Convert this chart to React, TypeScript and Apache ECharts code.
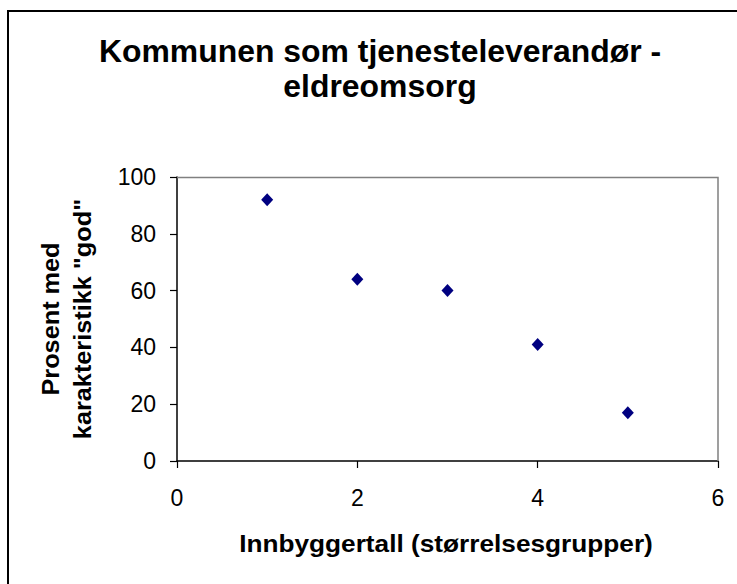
import React, { useEffect, useRef } from "react";
import * as echarts from "echarts";

const titleLines = ["Kommunen som tjenesteleverandør -", "eldreomsorg"];
const xAxisTitle = "Innbyggertall (størrelsesgrupper)";
const yAxisTitleLines = ["Prosent med", 'karakteristikk "god"'];
const xValues = [1, 2, 3, 4, 5];
const yValues = [92, 64, 60, 41, 17];

const FONT = '"Liberation Sans", Arial, sans-serif';

export default function App() {
  const ref = useRef<HTMLDivElement>(null);
  useEffect(() => {
    if (!ref.current) return;
    const chart = echarts.init(ref.current, undefined, { renderer: "svg" });
    const data = xValues.map((x, i) => [x, yValues[i]]);
    const boldText = (text: string, x: number, y: number, size: number, sx: number, rot = 0) => ({
      type: "text",
      x,
      y,
      rotation: rot,
      scaleX: sx,
      style: {
        text,
        fontFamily: FONT,
        fontWeight: "bold",
        fontSize: size,
        fill: "#000",
        textAlign: "center",
        textVerticalAlign: "middle",
      },
    });
    chart.setOption({
      animation: false,
      backgroundColor: "#ffffff",
      grid: { left: 177, top: 177, right: 19, bottom: 123, show: false },
      xAxis: {
        type: "value",
        min: 0,
        max: 6,
        interval: 2,
        axisLine: { show: true, onZero: false, lineStyle: { color: "#000", width: 1.5 } },
        axisTick: { show: true, inside: false, length: 7, lineStyle: { color: "#000", width: 1.2 } },
        axisLabel: { color: "#000", fontFamily: FONT, fontSize: 23, margin: 25 },
        splitLine: { show: false },
      },
      yAxis: {
        type: "value",
        min: 0,
        max: 100,
        interval: 20,
        axisLine: { show: true, onZero: false, lineStyle: { color: "#000", width: 1.5 } },
        axisTick: { show: true, inside: false, length: 7, lineStyle: { color: "#000", width: 1.2 } },
        axisLabel: { color: "#000", fontFamily: FONT, fontSize: 23, margin: 21 },
        splitLine: { show: false },
      },
      series: [
        {
          type: "scatter",
          data,
          symbol: "diamond",
          symbolSize: [12, 13],
          itemStyle: { color: "#000080", opacity: 1 },
        },
      ],
      graphic: [
        {
          type: "rect",
          shape: { x: 8, y: 11, width: 760, height: 600 },
          style: { fill: "none", stroke: "#000", lineWidth: 2 },
          z: 10,
        },
        {
          type: "polyline",
          shape: { points: [[177, 177.5], [718, 177.5], [718, 461]] },
          style: { stroke: "#808080", lineWidth: 1.5, fill: "none" },
          z: 1,
        },
        boldText(titleLines[0], 380, 52, 31, 1.03),
        boldText(titleLines[1], 380, 87, 31, 1.03),
        boldText(xAxisTitle, 446, 544, 23, 1.14),
        boldText(yAxisTitleLines[0], 51, 319, 23, 1.1, Math.PI / 2),
        boldText(yAxisTitleLines[1], 83, 319, 23, 1.1, Math.PI / 2),
      ],
    });
    return () => chart.dispose();
  }, []);
  return (
    <div
      ref={ref}
      style={{ position: "fixed", left: 0, top: 0, width: 737, height: 584 }}
    />
  );
}
